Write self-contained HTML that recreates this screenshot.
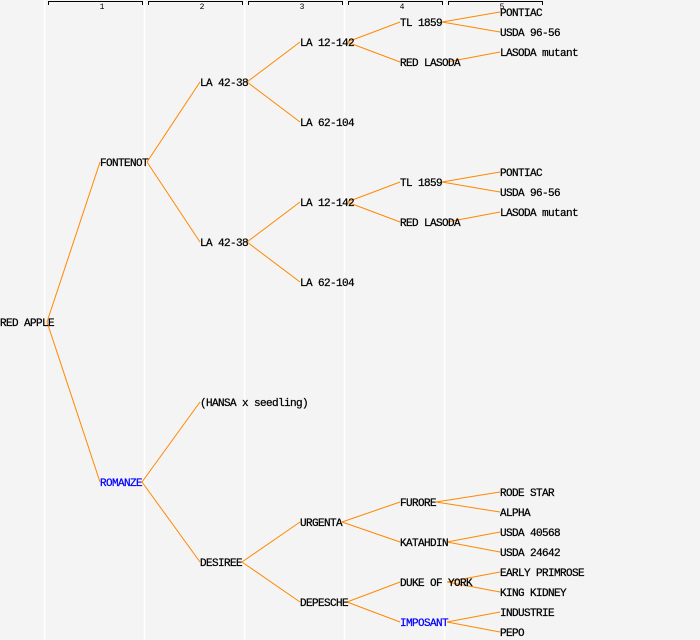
<!DOCTYPE html>
<html><head><style>html,body{margin:0;padding:0;background:#f4f4f4}svg{display:block}</style></head>
<body>
<svg id="s" width="700" height="640" xmlns="http://www.w3.org/2000/svg" font-family="Liberation Mono, monospace" font-size="11" letter-spacing="-0.6">
<rect width="700" height="640" fill="#f4f4f4"/>
<g stroke="#ffffff" stroke-width="1.5">
<line x1="44.5" y1="0" x2="44.5" y2="640"/><line x1="144.5" y1="0" x2="144.5" y2="640"/><line x1="244.5" y1="0" x2="244.5" y2="640"/><line x1="344.5" y1="0" x2="344.5" y2="640"/><line x1="444.5" y1="0" x2="444.5" y2="640"/>
</g>
<g stroke="#000" stroke-width="1" fill="none">
<path d="M48.5,5 V1.5 H142.5 V5"/><path d="M148.5,5 V1.5 H242.5 V5"/><path d="M248.5,5 V1.5 H342.5 V5"/><path d="M348.5,5 V1.5 H442.5 V5"/><path d="M448.5,5 V1.5 H542.5 V5"/>
</g>
<g font-size="8" text-anchor="middle" fill="#000" letter-spacing="0">
<text x="102" y="9">1</text><text x="202" y="9">2</text><text x="302" y="9">3</text><text x="402" y="9">4</text><text x="502" y="9">5</text>
</g>
<g id="lines" stroke="#ff8800" stroke-width="1" fill="none"></g>
<g id="labels" fill="#000" stroke="#000" stroke-width="0.25"></g>
</svg>
<script>
var nodes=[
["RED APPLE",0,322,null],
["FONTENOT",100,162,0],["LA 42-38",200,82,1],["LA 12-142",300,42,2],["LA 62-104",300,122,2],
["TL 1859",400,22,3],["RED LASODA",400,62,3],["PONTIAC",500,12,5],["USDA 96-56",500,32,5],["LASODA mutant",500,52,6],
["LA 42-38",200,242,1],["LA 12-142",300,202,10],["LA 62-104",300,282,10],
["TL 1859",400,182,11],["RED LASODA",400,222,11],["PONTIAC",500,172,13],["USDA 96-56",500,192,13],["LASODA mutant",500,212,14],
["ROMANZE",100,482,0,1],["(HANSA x seedling)",200,402,18],["DESIREE",200,562,18],
["URGENTA",300,522,20],["DEPESCHE",300,602,20],["FURORE",400,502,21],["KATAHDIN",400,542,21],
["RODE STAR",500,492,23],["ALPHA",500,512,23],["USDA 40568",500,532,24],["USDA 24642",500,552,24],
["DUKE OF YORK",400,582,22],["IMPOSANT",400,622,22,1],["EARLY PRIMROSE",500,572,29],["KING KIDNEY",500,592,29],
["INDUSTRIE",500,612,30],["PEPO",500,632,30]];
var NS="http://www.w3.org/2000/svg",L=document.getElementById("lines"),T=document.getElementById("labels");
nodes.forEach(function(n){
 var t=document.createElementNS(NS,"text");t.setAttribute("x",n[1]);t.setAttribute("y",n[2]+4);
 t.textContent=n[0];if(n[4]){t.setAttribute("fill","#0000ff");t.setAttribute("stroke","#0000ff");}T.appendChild(t);
 if(n[3]!==null){var p=nodes[n[3]];var end=Math.min(p[1]+p[0].length*6,p[1]+47);
  var l=document.createElementNS(NS,"line");l.setAttribute("x1",end);l.setAttribute("y1",p[2]);
  l.setAttribute("x2",n[1]);l.setAttribute("y2",n[2]);L.appendChild(l);}
});
</script>
</body></html>
